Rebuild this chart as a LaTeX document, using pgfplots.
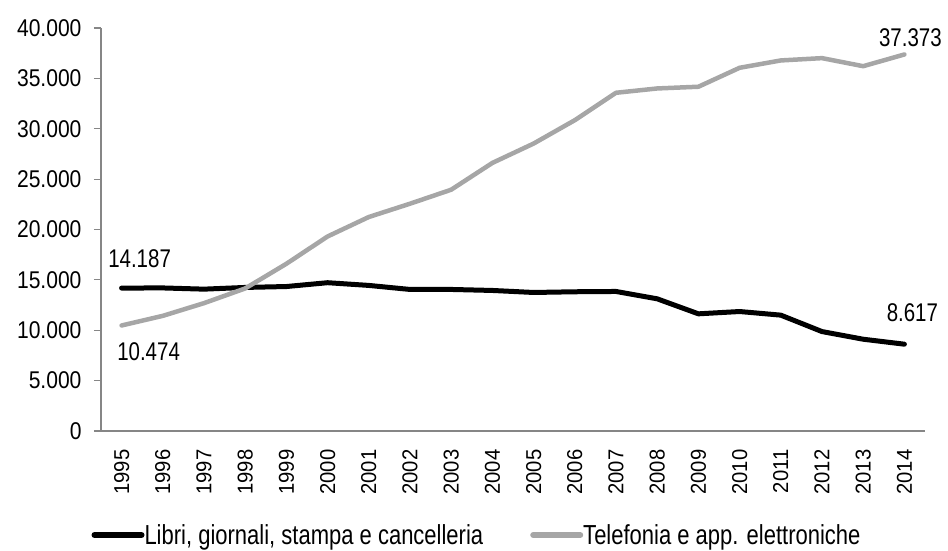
\documentclass[border=0pt]{standalone}
\usepackage{fontspec}
\setmainfont[FakeStretch=0.8]{Liberation Sans}
\newfontfamily\yticfont[FakeStretch=0.87]{Liberation Sans}
\usepackage{pgfplots}
\pgfplotsset{compat=1.18}
\definecolor{axgray}{HTML}{868686}
\definecolor{lgray}{HTML}{A6A6A6}
\newcommand\yl[1]{\scalebox{1}[0.85]{#1}}
\begin{document}
\begin{tikzpicture}
\useasboundingbox (-101pt,-119pt) rectangle (847pt,431pt);
\begin{axis}[
  at={(0pt,0pt)}, anchor=south west,
  width=824pt, height=403pt, scale only axis,
  xmin=-0.5, xmax=19.5, ymin=0, ymax=40000,
  clip=false,
  axis x line*=bottom, axis y line*=left,
  axis line style={axgray, line width=1.2pt},
  every tick/.style={axgray, line width=1.2pt},
  tick align=outside,
  major tick length=7pt,
  xtick={0,...,19},
  xticklabels={\yl{1995},\yl{1996},\yl{1997},\yl{1998},\yl{1999},\yl{2000},\yl{2001},\yl{2002},\yl{2003},\yl{2004},\yl{2005},\yl{2006},\yl{2007},\yl{2008},\yl{2009},\yl{2010},\yl{2011},\yl{2012},\yl{2013},\yl{2014}},
  x tick style={draw=none},
  extra x ticks={-0.5,0.5,...,19.5},
  extra x tick labels={},
  extra x tick style={tick style={axgray, line width=1.2pt, draw=axgray}, major tick length=7pt},
  xticklabel style={rotate=90, anchor=east, font=\fontsize{25.3}{30}\selectfont, xshift=-8pt},
  ytick={0,5000,...,40000},
  scaled y ticks=false,
  yticklabel style={font=\yticfont\fontsize{24.2}{29}\selectfont, xshift=-9pt},
  /pgf/number format/.cd, 1000 sep={.}, fixed, assume math mode=true,
  /pgfplots/.cd,
  legend columns=2,
  legend style={at={(0.4551,-0.258)}, anchor=center, draw=none, fill=none,
    font=\fontsize{27.5}{32}\selectfont, inner sep=0pt,
    nodes={inner sep=0pt},
    /tikz/every even column/.append style={column sep=47pt}},
  legend image code/.code={\draw[#1, line width=6pt, line cap=round] (3pt,0pt) -- (50pt,0pt);},
]
\addplot[black, line width=5pt, line join=round, line cap=round] coordinates {
(0,14187) (1,14200) (2,14080) (3,14250) (4,14340) (5,14720) (6,14450) (7,14050) (8,14050) (9,13950)
(10,13750) (11,13820) (12,13850) (13,13120) (14,11630) (15,11860) (16,11500) (17,9870) (18,9110) (19,8617)};
\addlegendentry{Libri, giornali, stampa e cancelleria}
\addplot[lgray, line width=4.5pt, line join=round, line cap=round] coordinates {
(0,10474) (1,11430) (2,12690) (3,14150) (4,16600) (5,19310) (6,21240) (7,22560) (8,23950) (9,26610)
(10,28530) (11,30850) (12,33570) (13,34000) (14,34170) (15,36050) (16,36780) (17,37010) (18,36210) (19,37373)};
\addlegendentry{Telefonia e app. elettroniche}
\node[anchor=south, inner sep=0pt, font=\fontsize{25.6}{30}\selectfont, xshift=18pt, yshift=20pt] at (axis cs:0,14187) {14.187};
\node[anchor=north, inner sep=0pt, font=\fontsize{25.6}{30}\selectfont, xshift=27pt, yshift=-17pt] at (axis cs:0,10474) {10.474};
\node[anchor=south, inner sep=0pt, font=\fontsize{25.6}{30}\selectfont, xshift=8pt, yshift=22pt] at (axis cs:19,8617) {8.617};
\node[anchor=south, inner sep=0pt, font=\fontsize{25.6}{30}\selectfont, xshift=6pt, yshift=8pt] at (axis cs:19,37373) {37.373};
\end{axis}
\end{tikzpicture}
\end{document}
